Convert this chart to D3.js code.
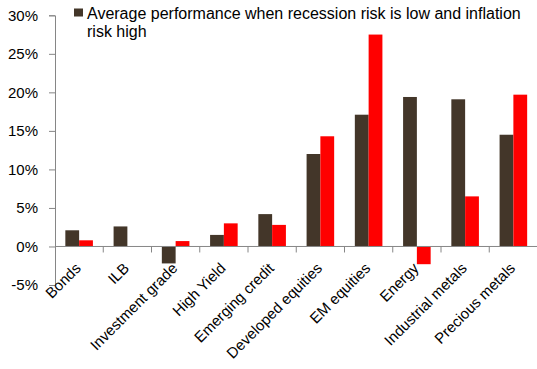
<!DOCTYPE html>
<html>
<head>
<meta charset="utf-8">
<script src="https://cdn.jsdelivr.net/npm/d3@7"></script>
<style>
  body { margin: 0; background: #fff; }
  svg { display: block; font-family: "Liberation Sans", Arial, sans-serif; }
</style>
</head>
<body>
<svg id="chart"></svg>
<script>
const categories = ["Bonds", "ILB", "Investment grade", "High Yield", "Emerging credit",
  "Developed equities", "EM equities", "Energy", "Industrial metals", "Precious metals"];
const avgPerformance = [2.1, 2.6, -2.2, 1.5, 4.2, 12.0, 17.1, 19.4, 19.1, 14.5];
const secondSeries = [0.8, 0, 0.7, 3.0, 2.8, 14.3, 27.5, -2.3, 6.5, 19.7];
const yTicks = [-5, 0, 5, 10, 15, 20, 25, 30];
const legendLines = ["Average performance when recession risk is low and inflation", "risk high"];

const w = 537, h = 369;
const plotLeft = 55, plotRight = 537.5, plotTop = 15.3, plotBottom = 285;
const dark = "#433629", red = "#ff0000", axisColor = "#868686";

const svg = d3.select("#chart").attr("width", w).attr("height", h);

const x = d3.scaleBand().domain(categories).range([plotLeft, plotRight]);
const y = d3.scaleLinear().domain([-5, 30]).range([plotBottom, plotTop]);
const barW = x.bandwidth() / 3.5;

// y axis
const yAxis = d3.axisLeft(y).tickValues(yTicks).tickSize(6).tickPadding(11)
  .tickFormat(d => d + "%");
const gy = svg.append("g").attr("transform", `translate(${plotLeft},0)`).call(yAxis);
gy.select(".domain").attr("stroke", axisColor);
gy.selectAll(".tick line").attr("stroke", axisColor);
gy.selectAll(".tick text").attr("fill", "#000").style("font-size", "15px")
  .style("font-family", "'Liberation Sans', Arial, sans-serif");

// bars
const groups = svg.append("g").selectAll("g").data(categories).join("g")
  .attr("transform", d => `translate(${x(d) + x.bandwidth() / 2},0)`);
groups.append("rect")
  .attr("x", -barW)
  .attr("width", barW)
  .attr("y", (d, i) => y(Math.max(0, avgPerformance[i])))
  .attr("height", (d, i) => Math.abs(y(avgPerformance[i]) - y(0)))
  .attr("fill", dark);
groups.append("rect")
  .attr("x", 0)
  .attr("width", barW)
  .attr("y", (d, i) => y(Math.max(0, secondSeries[i])))
  .attr("height", (d, i) => Math.abs(y(secondSeries[i]) - y(0)))
  .attr("fill", red);

// x axis at zero
const y0 = y(0);
svg.append("line").attr("x1", plotLeft).attr("x2", plotRight).attr("y1", y0).attr("y2", y0)
  .attr("stroke", axisColor);
svg.append("g").selectAll("line").data(categories.slice(1)).join("line")
  .attr("x1", d => x(d)).attr("x2", d => x(d))
  .attr("y1", y0).attr("y2", y0 + 6)
  .attr("stroke", axisColor);

svg.append("g").selectAll("text").data(categories).join("text")
  .attr("transform", d => `translate(${x(d) + x.bandwidth() / 2 - 1},${y0 + 19}) rotate(-45)`)
  .attr("text-anchor", "end")
  .attr("dy", "0.35em")
  .style("font-size", "15px")
  .text(d => d);

// legend (first series only)
svg.append("rect").attr("x", 74).attr("y", 8.5).attr("width", 9).attr("height", 8).attr("fill", dark);
const lt = svg.append("text").style("font-size", "16px").attr("fill", "#000");
lt.selectAll("tspan").data(legendLines).join("tspan")
  .attr("x", 87).attr("y", (d, i) => 18.5 + i * 18)
  .text(d => d);
</script>
</body>
</html>
